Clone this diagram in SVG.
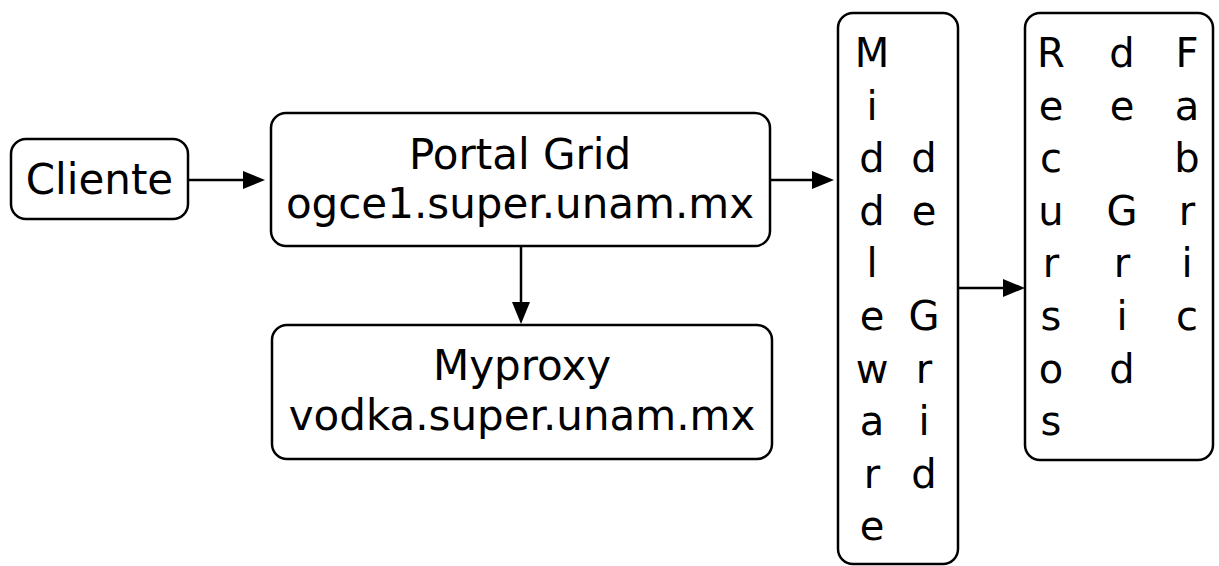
<svg xmlns="http://www.w3.org/2000/svg" width="1219" height="566" viewBox="0 0 1219 566">
<style>
.box{fill:#fff;stroke:#000;stroke-width:2.5}
.t{font-family:"DejaVu Sans",sans-serif;font-size:42px;fill:#000;text-anchor:middle}
.v{font-family:"DejaVu Sans",sans-serif;font-size:40px;fill:#000;text-anchor:middle}
.c{stroke:#000;stroke-width:2.5;fill:none}
</style>
<rect width="1219" height="566" fill="#fff"/>
<g id="connectors">
<line class="c" x1="189" y1="180" x2="250" y2="180"/><path d="M243,171 L265,180 L243,189 Z"/>
<line class="c" x1="770" y1="180" x2="820" y2="180"/><path d="M812,171 L834,180 L812,189 Z"/>
<line class="c" x1="521" y1="246" x2="521" y2="308"/><path d="M512,302 L521,324 L530,302 Z"/>
<line class="c" x1="958" y1="288" x2="1010" y2="288"/><path d="M1003,279 L1025,288 L1003,297 Z"/>
</g>
<g id="cliente">
<rect class="box" x="11" y="139" width="177" height="80" rx="15"/>
<text class="t" x="99.5" y="194">Cliente</text>
</g>
<g id="portal">
<rect class="box" x="271" y="113" width="499" height="133" rx="15"/>
<text class="t" x="520" y="169">Portal Grid</text>
<text class="t" x="520" y="218">ogce1.super.unam.mx</text>
</g>
<g id="myproxy">
<rect class="box" x="272" y="325" width="500" height="134" rx="15"/>
<text class="t" x="522" y="380">Myproxy</text>
<text class="t" x="522" y="430">vodka.super.unam.mx</text>
</g>
<g id="middleware">
<rect class="box" x="838" y="13" width="120" height="551" rx="15"/>
<g class="v">
<text x="872" y="67">M</text>
<text x="872" y="119.6">i</text>
<text x="872" y="172.2">d</text><text x="924" y="172.2">d</text>
<text x="872" y="224.8">d</text><text x="924" y="224.8">e</text>
<text x="872" y="277.4">l</text>
<text x="872" y="330">e</text><text x="924" y="330">G</text>
<text x="872" y="382.6">w</text><text x="924" y="382.6">r</text>
<text x="872" y="435.2">a</text><text x="924" y="435.2">i</text>
<text x="872" y="487.8">r</text><text x="924" y="487.8">d</text>
<text x="872" y="540.4">e</text>
</g>
</g>
<g id="recursos">
<rect class="box" x="1025" y="13" width="188" height="447" rx="15"/>
<g class="v">
<text x="1051" y="67">R</text><text x="1122" y="67">d</text><text x="1187" y="67">F</text>
<text x="1051" y="119.6">e</text><text x="1122" y="119.6">e</text><text x="1187" y="119.6">a</text>
<text x="1051" y="172.2">c</text><text x="1187" y="172.2">b</text>
<text x="1051" y="224.8">u</text><text x="1122" y="224.8">G</text><text x="1187" y="224.8">r</text>
<text x="1051" y="277.4">r</text><text x="1122" y="277.4">r</text><text x="1187" y="277.4">i</text>
<text x="1051" y="330">s</text><text x="1122" y="330">i</text><text x="1187" y="330">c</text>
<text x="1051" y="382.6">o</text><text x="1122" y="382.6">d</text>
<text x="1051" y="435.2">s</text>
</g>
</g>
</svg>
